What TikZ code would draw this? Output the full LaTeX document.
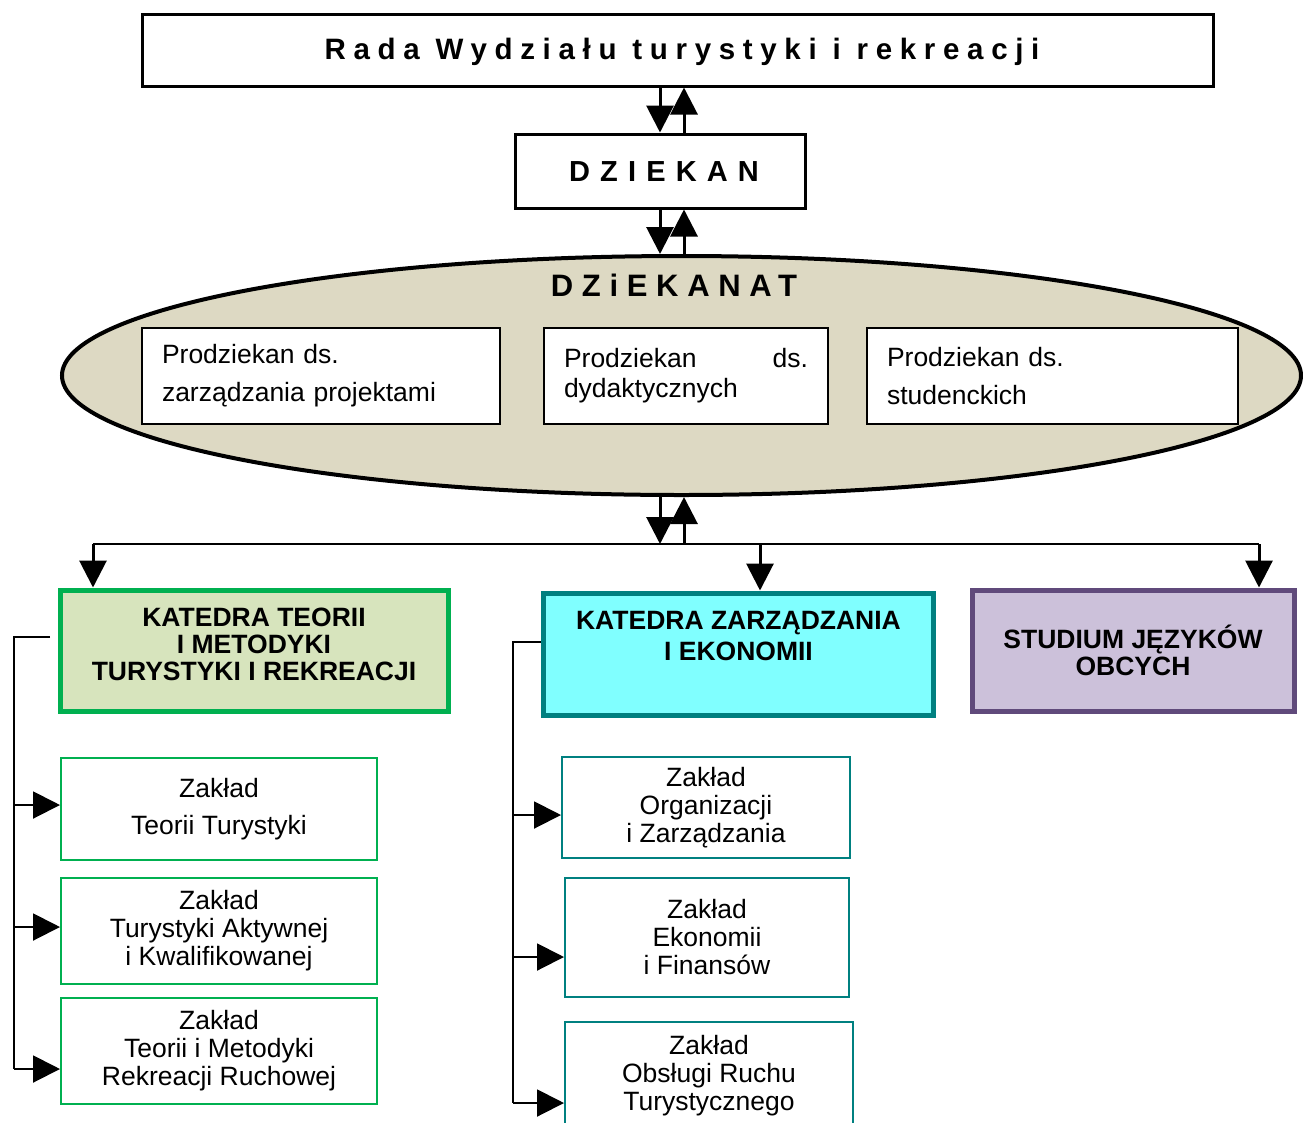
\documentclass[tikz,border=0pt]{standalone}
\usepackage{fontspec}
\setmainfont{Liberation Sans}
\usetikzlibrary{arrows.meta,shapes.geometric}

\definecolor{piasek}{HTML}{DDD9C3}
\definecolor{zielen}{HTML}{00B050}
\definecolor{zielentlo}{HTML}{D7E4BD}
\definecolor{morski}{HTML}{008080}
\definecolor{cyjan}{HTML}{80FFFF}
\definecolor{fiolet}{HTML}{604A7B}
\definecolor{fiolettlo}{HTML}{CCC1DA}

\newcommand{\rozstaw}[1]{\addfontfeatures{LetterSpace=#1}}

\begin{document}
\begin{tikzpicture}[x=1pt,y=-1pt,
		tekst/.style={font=\fontsize{26.5}{28}\selectfont},
		ramka/.style={draw,rectangle,inner sep=0pt,fill=white},
		gruba/.style={ramka,line width=3pt},
		prodziekan/.style={ramka,line width=1.5pt,align=left,inner xsep=20pt,minimum height=96pt,tekst},
		katedra/.style={ramka,line width=5pt},
		zaklad/.style={ramka,line width=2pt,align=center,tekst},
		napis/.style={font=\bfseries\fontsize{26.5}{27}\selectfont,align=center},
		strz/.style={-{Triangle[length=27pt,width=27pt]},line width=2pt},
		strzg/.style={strz,line width=3pt},
		linia/.style={line width=2pt}]
		\useasboundingbox[fill=white] (0,0) rectangle (1303,1122);
		
		% gora
		\node[gruba,minimum width=1071pt,minimum height=72pt] (rada) at (677.5,50) {};
		\node[font=\bfseries\fontsize{29.5}{29.5}\selectfont\rozstaw{26}] (radatxt) at (682,52) {Rada Wydziału turystyki i rekreacji};
		\node[gruba,minimum width=290pt,minimum height=74pt] (dziekan) at (660,171) {};
		\node[font=\bfseries\fontsize{29}{29}\selectfont\rozstaw{35}] (dziekantxt) at (664,172) {DZIEKAN};
		
		% dziekanat
		\node[ellipse,draw,line width=4pt,fill=piasek,inner sep=0pt,minimum width=1239pt,minimum height=239pt] (dziekanat) at (681.5,375.5) {};
		\node[font=\bfseries\fontsize{31}{31}\selectfont\rozstaw{28}] (dziekanattxt) at (674,285) {DZiEKANAT};
		\node[prodziekan,text width=318pt,font=\fontsize{26.5}{38}\selectfont] (prodA) at (321,376) {Prodziekan ds.\\zarządzania projektami};
		\node[prodziekan,text width=244pt,font=\fontsize{26.5}{30}\selectfont] (prodB) at (686,376) {Prodziekan\hfill ds.\\dydaktycznych};
		\node[prodziekan,text width=331pt,font=\fontsize{26.5}{38}\selectfont] (prodC) at (1052.5,376) {Prodziekan ds.\\studenckich};
		
		\coordinate (osd) at (660,0);
		\coordinate (osu) at (684,0);
		\draw[strzg] (osd |- rada.south) -- (osd |- dziekan.north);
		\draw[strzg] (osu |- dziekan.north) -- (osu |- rada.south);
		\draw[strzg] (osd |- dziekan.south) -- (osd |- dziekanat.north);
		\draw[strzg] (osu |- dziekanat.north) -- (osu |- dziekan.south);
		
		% katedry
		\node[katedra,draw=zielen,fill=zielentlo,minimum width=388pt,minimum height=121pt] (katA) at (254,650.5) {};
		\node[napis] (katAtxt) at (254,644) {KATEDRA TEORII\\I METODYKI\\TURYSTYKI I REKREACJI};
		\node[katedra,draw=morski,fill=cyjan,minimum width=390pt,minimum height=122pt] (katB) at (738,654) {};
		\node[napis,font=\bfseries\fontsize{26.5}{31}\selectfont] (katBtxt) at (738.5,636.5) {KATEDRA ZARZĄDZANIA\\I EKONOMII};
		\node[katedra,draw=fiolet,fill=fiolettlo,minimum width=322pt,minimum height=121pt] (katC) at (1133,650.5) {};
		\node[napis] (katCtxt) at (1133,650.5) {STUDIUM JĘZYKÓW\\OBCYCH};
		
		\coordinate (rozL) at (93,544);
		\coordinate (rozS) at (760,544);
		\coordinate (rozP) at (1259,544);
		\draw[linia] (rozL) -- (rozP);
		\draw[strzg] (osd |- dziekanat.south) -- (osd |- rozL);
		\draw[strzg] (osu |- rozL) -- (osu |- dziekanat.south);
		\draw[strzg] (rozL) -- (rozL |- katA.north);
		\draw[strzg] (rozS) -- (rozS |- katB.north);
		\draw[strzg] (rozP) -- (rozP |- katC.north);
		
		% zaklady
		\node[zaklad,draw=zielen,minimum width=316pt,minimum height=102pt] (zA) at (219,809) {Zakład\\[9pt]Teorii Turystyki};
		\node[zaklad,draw=zielen,minimum width=316pt,minimum height=106pt] (zB) at (219,931) {Zakład\\Turystyki Aktywnej\\i Kwalifikowanej};
		\node[zaklad,draw=zielen,minimum width=316pt,minimum height=106pt] (zC) at (219,1051) {Zakład\\Teorii i Metodyki\\Rekreacji Ruchowej};
		\node[zaklad,draw=morski,minimum width=288pt,minimum height=101pt] (zD) at (706,807.5) {Zakład\\Organizacji\\i Zarządzania};
		\node[zaklad,draw=morski,minimum width=284pt,minimum height=119pt] (zE) at (707,937.5) {Zakład\\Ekonomii\\i Finansów};
		\node[zaklad,draw=morski,minimum width=288pt,minimum height=108pt] (zF) at (709,1076) {Zakład\\Obsługi Ruchu\\Turystycznego};
		
		\coordinate (wejA) at (50,637);
		\coordinate (busA) at (14,637);
		\draw[linia] (wejA) -- (busA) -- (busA |- 0,1069);
		\draw[strz] (busA |- 0,805) -- (zA.west |- 0,805);
		\draw[strz] (busA |- 0,927) -- (zB.west |- 0,927);
		\draw[strz] (busA |- 0,1069) -- (zC.west |- 0,1069);
		
		\coordinate (busB) at (513,642);
		\draw[linia] (katB.west |- busB) -- (busB) -- (busB |- 0,1103);
		\draw[strz] (busB |- 0,815) -- (zD.west |- 0,815);
		\draw[strz] (busB |- 0,957) -- (zE.west |- 0,957);
		\draw[strz] (busB |- 0,1103) -- (zF.west |- 0,1103);
	\end{tikzpicture}
\end{document}
